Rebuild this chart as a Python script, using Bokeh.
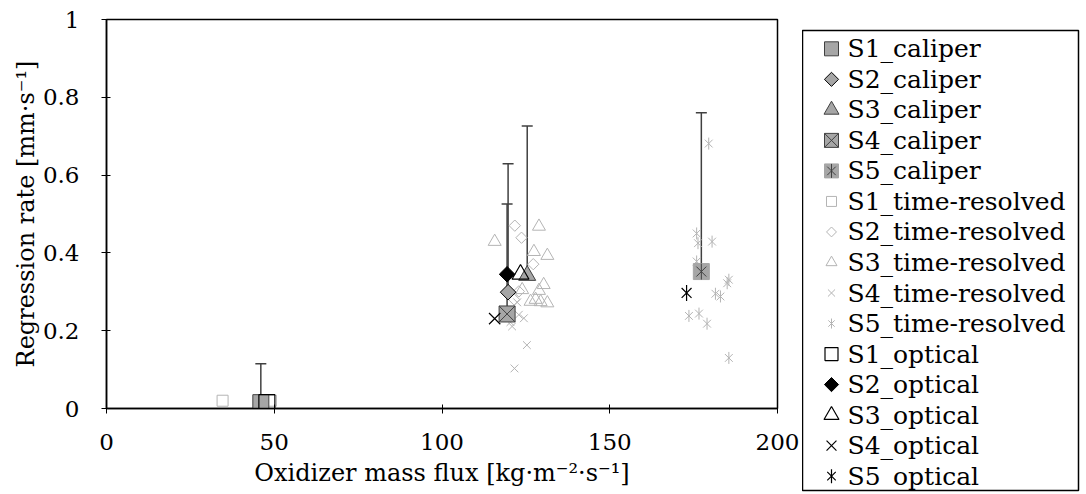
import math
from bokeh.plotting import figure
from bokeh.layouts import row
from bokeh.models import ColumnDataSource, Whisker, TeeHead, FixedTicker, Range1d
from bokeh.core.properties import value
from bokeh.embed import file_html
from bokeh.resources import INLINE

FONT = "DejaVu Serif"

# ---------------- data ----------------
x_ticks = [0, 50, 100, 150, 200]
y_ticks = [0, 0.2, 0.4, 0.6, 0.8, 1.0]
y_tick_labels = ["0", "0.2", "0.4", "0.6", "0.8", "1"]

# caliper (mean with upper error)
s1_cal_x = [46.0];  s1_cal_y = [0.015]; s1_cal_err = [0.100]
s2_cal_x = [119.7]; s2_cal_y = [0.299]; s2_cal_err = [0.330]
s3_cal_x = [125.4]; s3_cal_y = [0.342]; s3_cal_err = [0.384]
s4_cal_x = [119.4]; s4_cal_y = [0.243]; s4_cal_err = [0.283]
s5_cal_x = [177.3]; s5_cal_y = [0.352]; s5_cal_err = [0.408]

# time-resolved
s1_tr_x = [34.6, 49.0]
s1_tr_y = [0.020, 0.020]
s2_tr_x = [121.7, 123.7, 127.2, 122.9, 121.5]
s2_tr_y = [0.470, 0.439, 0.371, 0.301, 0.280]
s3_tr_x = [115.7, 128.9, 127.4, 131.4, 130.3, 123.9, 128.9, 126.4, 127.9, 129.4, 131.4]
s3_tr_y = [0.429, 0.468, 0.403, 0.393, 0.318, 0.305, 0.303, 0.275, 0.280, 0.274, 0.271]
s4_tr_x = [125.3, 121.6, 122.4, 122.9, 124.4, 120.4, 120.9]
s4_tr_y = [0.163, 0.103, 0.273, 0.241, 0.232, 0.222, 0.211]
s5_tr_x = [179.5, 175.9, 176.3, 180.5, 175.9, 185.5, 185.0, 181.5, 183.0, 173.6, 176.6, 179.0, 185.5]
s5_tr_y = [0.681, 0.450, 0.425, 0.429, 0.378, 0.331, 0.322, 0.295, 0.288, 0.238, 0.244, 0.218, 0.130]

# optical
s1_opt_x = [47.8];  s1_opt_y = [0.015]
s2_opt_x = [119.4]; s2_opt_y = [0.345]
s3_opt_x = [123.4]; s3_opt_y = [0.345]
s4_opt_x = [115.7]; s4_opt_y = [0.231]
s5_opt_x = [172.9]; s5_opt_y = [0.297]

legend_labels = ["S1_caliper", "S2_caliper", "S3_caliper", "S4_caliper", "S5_caliper",
                 "S1_time-resolved", "S2_time-resolved", "S3_time-resolved", "S4_time-resolved",
                 "S5_time-resolved",
                 "S1_optical", "S2_optical", "S3_optical", "S4_optical", "S5_optical"]

# ---------------- styles ----------------
CAL_FILL = "#a6a6a6"
CAL_LINE = "#404040"
TR_LINE = "#b4b4b4"
OPT = "black"
ERR = "#404040"
D45 = math.pi / 4
V90 = math.pi / 2

# layers: (marker, angle, chart size, legend size, fill, line, width)
STYLE = {
    "S1_caliper": [("square", 0, 16, 14, CAL_FILL, CAL_LINE, 1)],
    "S2_caliper": [("square", D45, 11, 10, CAL_FILL, "black", 1)],
    "S3_caliper": [("triangle", 0, 17, 15, CAL_FILL, CAL_LINE, 1)],
    "S4_caliper": [("square_x", 0, 16, 14, CAL_FILL, CAL_LINE, 1)],
    "S5_caliper": [("square", 0, 16, 14, CAL_FILL, CAL_FILL, 1),
                   ("x", 0, 14, 12, None, CAL_LINE, 1),
                   ("dash", V90, 16, 14, None, CAL_LINE, 1)],
    "S1_time-resolved": [("square", 0, 11, 10, None, TR_LINE, 1)],
    "S2_time-resolved": [("square", D45, 8, 7, None, TR_LINE, 1)],
    "S3_time-resolved": [("triangle", 0, 13, 11, None, TR_LINE, 1)],
    "S4_time-resolved": [("x", 0, 11, 10, None, TR_LINE, 1)],
    "S5_time-resolved": [("x", 0, 11, 9, None, TR_LINE, 1),
                         ("dash", V90, 12, 10, None, TR_LINE, 1)],
    "S1_optical": [("square", 0, 16, 13, None, OPT, 1.2)],
    "S2_optical": [("square", D45, 11, 10, OPT, OPT, 1)],
    "S3_optical": [("triangle", 0, 17, 15, None, OPT, 1.2)],
    "S4_optical": [("x", 0, 16, 14, None, OPT, 1.2)],
    "S5_optical": [("x", 0, 14, 12, None, OPT, 1.2),
                   ("dash", V90, 16, 14, None, OPT, 1.2)],
}


def draw(fig, xs, ys, name, legend=False):
    for marker, ang, s_chart, s_leg, fill, line, lw in STYLE[name]:
        kw = dict(marker=marker, angle=ang, size=s_leg if legend else s_chart,
                  line_color=line, line_width=lw)
        if fill is None:
            kw["fill_alpha"] = 0
        else:
            kw["fill_color"] = fill
        fig.scatter(xs, ys, **kw)


# ---------------- main chart ----------------
p = figure(width=802, height=494, x_range=Range1d(0, 200), y_range=Range1d(0, 1),
           output_backend="svg", toolbar_location=None,
           min_border_left=106, min_border_right=25, min_border_top=19, min_border_bottom=86)
p.frame_align = False
p.xgrid.visible = False
p.ygrid.visible = False
p.outline_line_color = "black"
p.outline_line_width = 1.5
p.background_fill_color = "white"
p.border_fill_color = "white"

p.xaxis.ticker = FixedTicker(ticks=x_ticks)
p.yaxis.ticker = FixedTicker(ticks=y_ticks)
p.yaxis.major_label_overrides = dict(zip(y_ticks, y_tick_labels))
for ax in (p.xaxis[0], p.yaxis[0]):
    ax.major_label_text_font = FONT
    ax.major_label_text_font_size = "23px"
    ax.major_label_text_color = "black"
    ax.axis_label_text_font = FONT
    ax.axis_label_text_font_size = "24px"
    ax.axis_label_text_font_style = "normal"
    ax.axis_label_text_color = "black"
    ax.axis_line_color = "black"
    ax.axis_line_width = 1.5
    ax.major_tick_line_color = "black"
    ax.major_tick_line_width = 1
    ax.major_tick_in = 4
    ax.major_tick_out = 5
    ax.minor_tick_line_color = None
p.xaxis.axis_label = "Oxidizer mass flux [kg·m⁻²·s⁻¹]"
p.yaxis.axis_label = "Regression rate [mm·s⁻¹]"
p.xaxis.major_label_standoff = 20
p.xaxis.axis_label_standoff = 6
p.yaxis.major_label_standoff = 22
p.yaxis.axis_label_standoff = 0

# error bars (upper only)
err_x = s1_cal_x + s2_cal_x + s3_cal_x + s4_cal_x + s5_cal_x
err_lo = s1_cal_y + s2_cal_y + s3_cal_y + s4_cal_y + s5_cal_y
err_e = s1_cal_err + s2_cal_err + s3_cal_err + s4_cal_err + s5_cal_err
err_src = ColumnDataSource(dict(x=err_x, lo=err_lo, hi=[a + b for a, b in zip(err_lo, err_e)]))
p.add_layout(Whisker(base="x", lower="lo", upper="hi", source=err_src, dimension="height",
                     line_color=ERR, line_width=1.5, lower_head=None,
                     upper_head=TeeHead(size=11, line_color=ERR, line_width=1.5),
                     level="underlay"))

# draw order: time-resolved, caliper, optical
draw(p, s1_tr_x, s1_tr_y, "S1_time-resolved")
draw(p, s2_tr_x, s2_tr_y, "S2_time-resolved")
draw(p, s3_tr_x, s3_tr_y, "S3_time-resolved")
draw(p, s4_tr_x, s4_tr_y, "S4_time-resolved")
draw(p, s5_tr_x, s5_tr_y, "S5_time-resolved")
draw(p, s1_cal_x, s1_cal_y, "S1_caliper")
draw(p, s2_cal_x, s2_cal_y, "S2_caliper")
draw(p, s3_cal_x, s3_cal_y, "S3_caliper")
draw(p, s4_cal_x, s4_cal_y, "S4_caliper")
draw(p, s5_cal_x, s5_cal_y, "S5_caliper")
draw(p, s1_opt_x, s1_opt_y, "S1_optical")
draw(p, s2_opt_x, s2_opt_y, "S2_optical")
draw(p, s3_opt_x, s3_opt_y, "S3_optical")
draw(p, s4_opt_x, s4_opt_y, "S4_optical")
draw(p, s5_opt_x, s5_opt_y, "S5_optical")

# ---------------- legend panel ----------------
n = len(legend_labels)
lg = figure(width=280, height=494, x_range=Range1d(0, 276),
            y_range=Range1d(n - 1 + 0.47, -0.6),
            x_axis_location=None, y_axis_location=None,
            output_backend="svg", toolbar_location=None,
            min_border_left=0, min_border_right=4, min_border_top=30, min_border_bottom=4)
lg.frame_align = False
lg.xgrid.visible = False
lg.ygrid.visible = False
lg.outline_line_color = "black"
lg.outline_line_width = 1.5
lg.background_fill_color = "white"
lg.border_fill_color = "white"

GLYPH_X = 29
TEXT_X = 45
for i, lab in enumerate(legend_labels):
    draw(lg, [GLYPH_X], [i], lab, legend=True)
lg.text(x=[TEXT_X] * n, y=list(range(n)), text=legend_labels,
        text_font=value(FONT), text_font_size="25px", text_color="black",
        text_baseline="middle", text_align="left")

layout = row(p, lg, spacing=0)
open("out.html", "w").write(file_html(layout, INLINE))
